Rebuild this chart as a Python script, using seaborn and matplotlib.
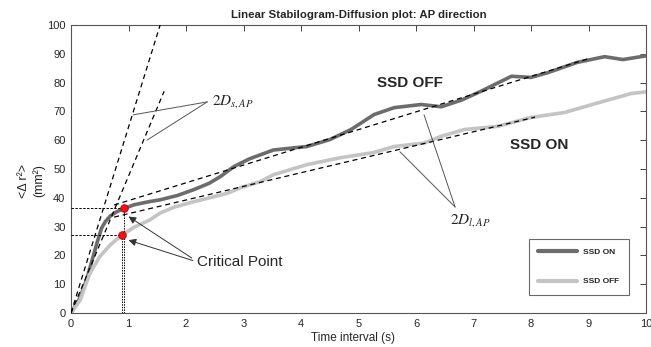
"""
Linear stabilogram-diffusion plot (AP direction), SSD ON vs SSD OFF.
Values read off the published figure.
"""

import numpy as np
import pandas as pd
import matplotlib.pyplot as plt
import seaborn as sns

# Mean square displacement curves (time interval in s, <dr^2> in mm^2)
dark_t = [0, 0.15, 0.27, 0.45, 0.53, 0.6, 0.68, 0.78, 0.91, 1.1, 1.37, 1.55,
          1.85, 2.13, 2.4, 2.6, 2.83, 3.1, 3.52, 4.1, 4.5, 4.87, 5.27, 5.62,
          6.09, 6.44, 6.8, 7.13, 7.66, 8.0, 8.3, 8.8, 9.28, 9.6, 10.0]
dark_msd = [0, 5.0, 11.5, 24.2, 29.4, 31.8, 33.6, 35.0, 36.2, 37.6, 38.7, 39.3,
            40.8, 42.8, 45.0, 47.4, 50.8, 53.5, 56.6, 57.8, 60.2, 63.7, 68.9, 71.3,
            72.4, 71.6, 74.0, 77.0, 82.2, 81.8, 83.5, 87.0, 89.0, 88.0, 89.3]

light_t = [0, 0.16, 0.25, 0.33, 0.5, 0.6, 0.68, 0.88, 1.1, 1.37, 1.55, 1.8,
           2.13, 2.71, 2.95, 3.3, 3.52, 4.1, 4.68, 5.26, 5.62, 6.14, 6.43, 6.84,
           7.42, 8.0, 8.58, 9.17, 9.74, 10.0]
light_msd = [0, 4.5, 9.5, 13.8, 19.6, 21.8, 23.6, 27.0, 29.8, 32.3, 34.7, 36.8,
             38.6, 41.5, 43.5, 45.7, 48.0, 51.5, 53.9, 55.7, 57.8, 59.0, 61.3, 63.7,
             64.8, 67.9, 69.6, 73.0, 76.2, 76.8]

# legend labels as printed in the original (dark line first)
legend_labels = ["SSD ON", "SSD OFF"]
curve_colors = ["#6c6c6c", "#c4c4c4"]

# fitted short-term and long-term diffusion lines (end points)
short_fit_t = [[0, 1.55], [0, 1.62]]
short_fit_msd = [[0, 100], [0, 77]]
long_fit_t = [[0.75, 9.03], [0.75, 8.07]]
long_fit_msd = [[37.5, 88.5], [33.3, 68.0]]

# critical points
crit_t = [0.92, 0.88]
crit_msd = [36.3, 27.0]

x_ticks = list(range(0, 11))
y_ticks = list(range(0, 101, 10))

sns.set_style("white")
plt.rcParams['font.family'] = ['Liberation Sans', 'DejaVu Sans']
plt.rcParams['mathtext.fontset'] = 'stix'

df = pd.concat([
    pd.DataFrame({'t': dark_t, 'msd': dark_msd, 'series': legend_labels[0]}),
    pd.DataFrame({'t': light_t, 'msd': light_msd, 'series': legend_labels[1]}),
], ignore_index=True)

fig = plt.figure(figsize=(6.51, 3.47), dpi=100)
ax = fig.add_axes([71 / 651, 34 / 347, 575 / 651, 288 / 347])

sns.lineplot(data=df, x='t', y='msd', hue='series', hue_order=legend_labels,
             palette=curve_colors, linewidth=2.6, sort=False, ax=ax)
for ln in ax.get_lines():
    ln.set_solid_joinstyle('round')

# fitted lines
dash = (0, (4, 3))
for tt, mm in zip(short_fit_t + long_fit_t, short_fit_msd + long_fit_msd):
    ax.plot(tt, mm, color='black', lw=0.9, ls=dash, zorder=3)

# guides to the critical points
for ct, cm in zip(crit_t, crit_msd):
    ax.plot([0, ct], [cm, cm], color='black', lw=0.7, ls=(0, (2.5, 1.5)), zorder=3)
    ax.plot([ct, ct], [0, cm], color='black', lw=0.7, ls=(0, (1.5, 1.2)), zorder=3)
ax.plot(crit_t, crit_msd, 'o', ms=5.5, color='#e8141b', mec='#c00000', mew=0.6, zorder=5)

# annotations
line_kw = dict(color='#555555', lw=0.7, zorder=4)
ax.plot([2.37, 1.08], [73.3, 68.8], **line_kw)
ax.plot([2.37, 1.32], [73.3, 60.0], **line_kw)
ax.text(2.45, 73.3, r'$2D_{s,AP}$', fontsize=11, va='center', ha='left')

ax.plot([6.68, 6.14], [36.8, 68.8], **line_kw)
ax.plot([6.68, 5.72], [36.8, 56.0], **line_kw)
ax.text(6.94, 32.0, r'$2D_{l,AP}$', fontsize=11, va='center', ha='center')

arrow_kw = dict(arrowstyle='-|>', color='#333333', lw=0.7, mutation_scale=11,
                shrinkA=0, shrinkB=0)
ax.annotate('', xy=(1.0, 33.5), xytext=(2.1, 19.1), arrowprops=arrow_kw)
ax.annotate('', xy=(1.0, 25.3), xytext=(2.12, 18.2), arrowprops=arrow_kw)
ax.text(2.19, 17.7, 'Critical Point', fontsize=11, va='center', ha='left')

ax.text(5.9, 79.8, 'SSD OFF', fontsize=11, fontweight='bold', ha='center', va='center')
ax.text(8.14, 58.3, 'SSD ON', fontsize=11, fontweight='bold', ha='center', va='center')

# axes styling (MATLAB-like box)
ax.set_xlim(0, 10)
ax.set_ylim(0, 100)
ax.set_xticks(x_ticks)
ax.set_yticks(y_ticks)
ax.tick_params(direction='in', top=True, right=True, length=4, width=0.7,
               color='#444444', labelsize=8, pad=4)
for sp in ax.spines.values():
    sp.set_color('#555555')
    sp.set_linewidth(0.8)

ax.set_title('Linear Stabilogram-Diffusion plot: AP direction', fontsize=8.2,
             fontweight='bold', pad=5)
ax.set_xlabel('Time interval (s)', fontsize=8.5)
ax.set_ylabel('<Δ r²>\n(mm²)', fontsize=9)
ax.yaxis.set_label_coords(-0.045, 0.46)
ax.xaxis.set_label_coords(0.49, -0.065)

handles, labels = ax.get_legend_handles_labels()
leg = ax.legend(handles, labels, loc='upper right', bbox_to_anchor=(0.97, 0.257),
                prop={'weight': 'bold', 'size': 6}, frameon=True,
                fancybox=False, handlelength=4.6, labelspacing=2.6,
                borderpad=1.1, handletextpad=0.8, borderaxespad=0)
leg.get_frame().set_edgecolor('#444444')
leg.get_frame().set_linewidth(0.8)
for h in leg.get_lines():
    h.set_linewidth(3)

fig.savefig('out.png', dpi=100)
